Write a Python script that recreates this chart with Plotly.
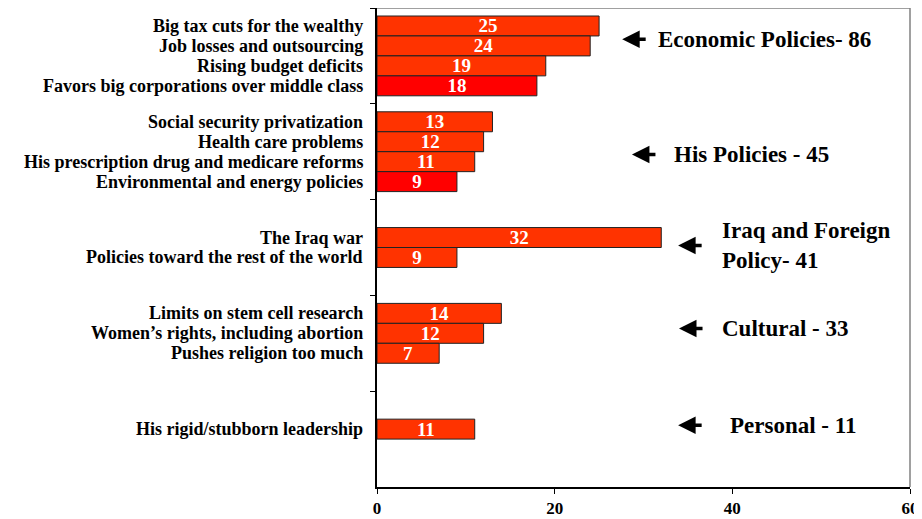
"""Reasons for opposing the president, grouped by issue area."""

import plotly.graph_objects as go

# Issue groups (one category per group on the y axis)
groups = ["Economic", "His Policies", "Iraq", "Cultural", "Personal"]

# Four bar series per group, like the original Excel chart; None = empty slot
s1_labels = ["Big tax cuts for the wealthy", "Social security privatization", "",
             "Limits on stem cell research", ""]
s1_values = [25, 13, None, 14, None]

s2_labels = ["Job losses and outsourcing", "Health care problems", "The Iraq war",
             "Women’s rights, including abortion", "His rigid/stubborn leadership"]
s2_values = [24, 12, 32, 12, 11]

s3_labels = ["Rising budget deficits", "His prescription drug and medicare reforms",
             "Policies toward the rest of the world", "Pushes religion too much", ""]
s3_values = [19, 11, 9, 7, None]

s4_labels = ["Favors big corporations over middle class",
             "Environmental and energy policies", "", "", ""]
s4_values = [18, 9, None, None, None]

# Group totals written on the right
group_notes = ["Economic Policies- 86", "His Policies - 45",
               "Iraq and Foreign<br>Policy- 41", "Cultural - 33", "Personal - 11"]

x_ticks = [0, 20, 40, 60]

SERIF = "Liberation Serif, Times New Roman, serif"
ORANGE = "#FF3300"
RED = "#FF0000"

series = [
    (s1_labels, s1_values, ORANGE),
    (s2_labels, s2_values, ORANGE),
    (s3_labels, s3_values, ORANGE),
    (s4_labels, s4_values, RED),
]

fig = go.Figure()

for labels, values, color in series:
    fig.add_trace(
        go.Bar(
            y=groups,
            x=values,
            orientation="h",
            marker={"color": color, "line": {"color": "#222222", "width": 1}},
            text=[str(v) if v is not None else "" for v in values],
            textposition="inside",
            insidetextanchor="middle",
            textangle=0,
            constraintext="none",
            textfont={"family": SERIF, "size": 19, "color": "white", "weight": "bold"},
            hoverinfo="skip",
            showlegend=False,
        )
    )

# Plot area geometry (pixels) used to place the left-hand bar labels
PLOT_H = 479
cat_px = PLOT_H / len(groups)
BARGAP = 0.167
slot_px = cat_px * (1 - BARGAP) / len(series)

annotations = []
for k, (labels, values, _) in enumerate(series):
    for g, (lab, v) in enumerate(zip(labels, values)):
        if v is None:
            continue
        annotations.append(
            dict(
                x=0, xref="x", y=groups[g], yref="y",
                text=lab, showarrow=False,
                xanchor="right", yanchor="middle",
                xshift=-12,
                yshift=-(k - (len(series) - 1) / 2) * slot_px,
                font={"family": SERIF, "size": 18, "color": "black", "weight": "bold"},
            )
        )

# Arrows and group totals on the right: (arrow head x, text x, y in paper)
note_pos = [
    (27.6, 31.4, 0.935),
    (28.7, 33.2, 0.694),
    (33.9, 38.6, 0.504),
    (34.0, 38.6, 0.331),
    (33.9, 39.5, 0.129),
]
for note, (hx, tx, py) in zip(group_notes, note_pos):
    annotations.append(
        dict(
            x=hx, xref="x", y=py, yref="paper",
            ax=25, ay=0, axref="pixel", ayref="pixel",
            text="", showarrow=True,
            arrowhead=2, arrowsize=1, arrowwidth=3.5, arrowcolor="black",
        )
    )
    annotations.append(
        dict(
            x=tx, xref="x", y=py, yref="paper",
            text=note, showarrow=False, align="left",
            xanchor="left", yanchor="middle",
            font={"family": SERIF, "size": 23, "color": "black", "weight": "bold"},
        )
    )

# Grey frame on top and right, as in the original plot area
shapes = [
    dict(type="line", xref="paper", yref="paper", x0=0, x1=1, y0=1, y1=1,
         line={"color": "#808080", "width": 1.5}),
    dict(type="line", xref="paper", yref="paper", x0=1, x1=1, y0=0, y1=1,
         line={"color": "#808080", "width": 1.5}),
]

# The page body adds an 8px offset, so the figure is sized to fit the window
fig.update_layout(
    width=914,
    height=511,
    margin={"l": 369, "r": 12, "t": 0, "b": 32},
    barmode="group",
    bargap=BARGAP,
    bargroupgap=0,
    plot_bgcolor="white",
    paper_bgcolor="white",
    annotations=annotations,
    shapes=shapes,
)

fig.update_xaxes(
    range=[0, 60],
    tickvals=x_ticks,
    ticks="outside",
    ticklen=5,
    tickcolor="black",
    showline=True,
    linecolor="black",
    linewidth=1.5,
    showgrid=False,
    zeroline=False,
    tickfont={"family": SERIF, "size": 17, "color": "black", "weight": "bold"},
)

fig.update_yaxes(
    type="category",
    autorange="reversed",
    showticklabels=False,
    ticks="outside",
    tickson="boundaries",
    ticklen=5,
    tickcolor="black",
    showline=True,
    linecolor="black",
    linewidth=1.5,
    showgrid=False,
    zeroline=False,
)

fig.write_html("out.html")
